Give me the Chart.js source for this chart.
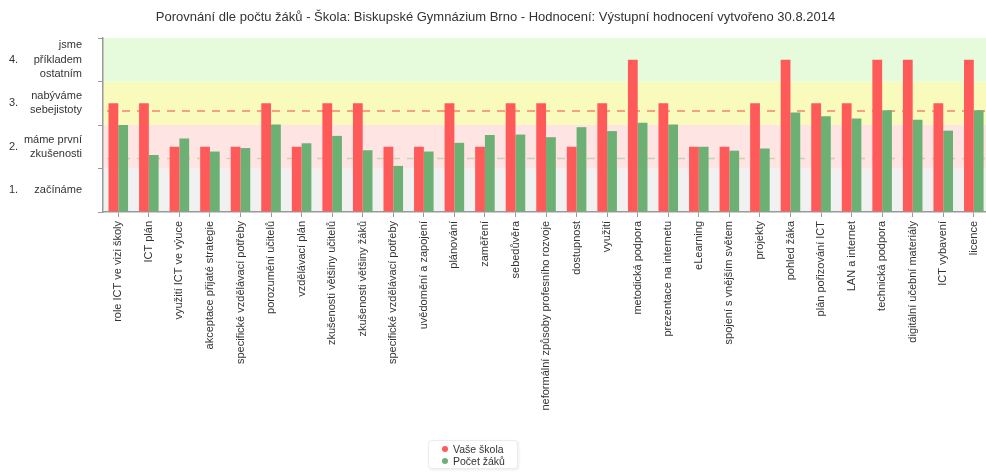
<!DOCTYPE html>
<html>
<head>
<meta charset="utf-8">
<script src="https://cdn.jsdelivr.net/npm/chart.js@4.4.1/dist/chart.umd.min.js"></script>
<style>
  html, body { margin: 0; padding: 0; background: #fff; overflow: hidden; }
  #wrap { position: relative; width: 991px; height: 472px; }
  #legend {
    position: absolute; left: 428px; top: 440px; width: 90px; height: 29px;
    border: 1px solid #ececec; border-radius: 4px; box-shadow: 1px 1px 3px rgba(0,0,0,0.08);
    font-family: "Liberation Sans", Arial, sans-serif; font-size: 10.5px; color: #333;
    box-sizing: border-box; padding: 3px 0 0 13px; background: #fff;
  }
  #legend div { height: 11.5px; line-height: 11.5px; white-space: nowrap; }
  #legend span.dot { display: inline-block; width: 6px; height: 6px; border-radius: 50%; margin-right: 5px; vertical-align: 1px; }
</style>
</head>
<body>
<div id="wrap">
  <canvas id="c"></canvas>
  <div id="legend"></div>
</div>
<script>
const chartTitle = 'Porovnání dle počtu žáků - Škola: Biskupské Gymnázium Brno - Hodnocení: Výstupní hodnocení vytvořeno 30.8.2014';

const categories = [
  'role ICT ve vizi školy', 'ICT plán', 'využití ICT ve výuce', 'akceptace přijaté strategie',
  'specifické vzdělávací potřeby', 'porozumění učitelů', 'vzdělávací plán', 'zkušenosti většiny učitelů',
  'zkušenosti většiny žáků', 'specifické vzdělávací potřeby', 'uvědomění a zapojení', 'plánování',
  'zaměření', 'sebedůvěra', 'neformální způsoby profesního rozvoje', 'dostupnost', 'využití',
  'metodická podpora', 'prezentace na internetu', 'eLearning', 'spojení s vnějším světem', 'projekty',
  'pohled žáka', 'plán pořizování ICT', 'LAN a internet', 'technická podpora',
  'digitální učební materiály', 'ICT vybavení', 'licence'
];

const seriesNames = ['Vaše škola', 'Počet žáků'];

const vaseSkola = [
  2.5, 2.5, 1.5, 1.5, 1.5, 2.5, 1.5, 2.5, 2.5, 1.5, 1.5, 2.5, 1.5, 2.5, 2.5,
  1.5, 2.5, 3.5, 2.5, 1.5, 1.5, 2.5, 3.5, 2.5, 2.5, 3.5, 3.5, 2.5, 3.5
];

const pocetZaku = [
  2.0, 1.31, 1.69, 1.39, 1.47, 2.01, 1.58, 1.75, 1.42, 1.06, 1.39, 1.59, 1.77, 1.78, 1.72,
  1.95, 1.86, 2.05, 2.01, 1.5, 1.41, 1.46, 2.29, 2.2, 2.15, 2.34, 2.12, 1.87, 2.34
];

const refLineVaseSkola = 2.32;
const refLinePocetZaku = 1.23;

const levelNumbers = ['1.', '2.', '3.', '4.'];
const levelLabels = [
  ['začínáme'],
  ['máme první', 'zkušenosti'],
  ['nabýváme', 'sebejistoty'],
  ['jsme', 'příkladem', 'ostatním']
];

const FONT = '"Liberation Sans", Arial, sans-serif';
const colorRed = '#ff5a5a';
const colorGreen = '#6db074';
const bandColors = ['#f1f1f1', '#ffe4e4', '#f8fbbc', '#e6fbdc'];

const bandsPlugin = {
  id: 'bands',
  beforeDraw(chart) {
    const { ctx, chartArea } = chart;
    const y = chart.scales.y;
    ctx.save();
    for (let i = 0; i < bandColors.length; i++) {
      const yTop = y.getPixelForValue(i + 1);
      const yBot = y.getPixelForValue(i);
      ctx.fillStyle = bandColors[i];
      ctx.fillRect(chartArea.left, yTop, chartArea.right - chartArea.left, yBot - yTop);
    }
    ctx.restore();
  },
  beforeDatasetsDraw(chart) {
    const { ctx, chartArea } = chart;
    const y = chart.scales.y;
    ctx.save();
    ctx.lineWidth = 1.5;
    ctx.setLineDash([8, 7]);
    [[refLineVaseSkola, '#f6846f'], [refLinePocetZaku, '#c4d4b4']].forEach(([v, c]) => {
      const py = y.getPixelForValue(v);
      ctx.strokeStyle = c;
      ctx.beginPath();
      ctx.moveTo(chartArea.left + 4, py);
      ctx.lineTo(chartArea.right, py);
      ctx.stroke();
    });
    ctx.restore();
  },
  afterDraw(chart) {
    const { ctx } = chart;
    const y = chart.scales.y;
    ctx.save();
    ctx.font = '11px ' + FONT;
    ctx.fillStyle = '#333';
    ctx.textAlign = 'left';
    ctx.textBaseline = 'middle';
    levelNumbers.forEach((t, i) => {
      ctx.fillText(t, 9, y.getPixelForValue(i + 0.5));
    });
    ctx.restore();
  }
};

const legendEl = document.getElementById('legend');
[[seriesNames[0], colorRed], [seriesNames[1], colorGreen]].forEach(([name, col]) => {
  const row = document.createElement('div');
  row.innerHTML = '<span class="dot" style="background:' + col + '"></span>' + name;
  legendEl.appendChild(row);
});

new Chart(document.getElementById('c'), {
  type: 'bar',
  data: {
    labels: categories,
    datasets: [
      { label: seriesNames[0], data: vaseSkola, backgroundColor: colorRed, categoryPercentage: 0.64, barPercentage: 1.0 },
      { label: seriesNames[1], data: pocetZaku, backgroundColor: colorGreen, categoryPercentage: 0.64, barPercentage: 1.0 }
    ]
  },
  options: {
    responsive: true,
    maintainAspectRatio: false,
    animation: false,
    layout: { padding: 0 },
    plugins: {
      legend: { display: false },
      tooltip: { enabled: false },
      title: {
        display: true,
        text: chartTitle,
        color: '#333',
        font: { family: FONT, size: 13, weight: 'normal', lineHeight: 1.2 },
        padding: { top: 10, bottom: 12.4 }
      }
    },
    scales: {
      x: {
        offset: true,
        grid: { display: true, offset: false, drawOnChartArea: false, tickLength: 5, color: '#9a9a9a' },
        border: { color: '#9a9a9a', width: 1.5 },
        ticks: {
          autoSkip: false, minRotation: 90, maxRotation: 90, padding: 4,
          color: '#333', font: { family: FONT, size: 11 }
        },
        afterFit(scale) { scale.height = 260; }
      },
      y: {
        min: 0, max: 4,
        afterBuildTicks(scale) {
          const t = [];
          for (let v = 0; v <= 4; v += 0.5) t.push({ value: v });
          scale.ticks = t;
        },
        afterFit(scale) { scale.width = 103; },
        grid: {
          display: true, drawOnChartArea: false, tickLength: 5,
          tickColor: (ctx) => (ctx.tick && ctx.tick.value % 1 === 0) ? '#9a9a9a' : 'rgba(0,0,0,0)',
          color: '#9a9a9a'
        },
        border: { color: '#9a9a9a', width: 1.5 },
        ticks: {
          autoSkip: false,
          padding: 16,
          color: '#333',
          font: { family: FONT, size: 11, lineHeight: 1.3 },
          callback: (value) => {
            if (value % 1 === 0) return '';
            return levelLabels[Math.floor(value)];
          }
        }
      }
    }
  },
  plugins: [bandsPlugin]
});
</script>
</body>
</html>
